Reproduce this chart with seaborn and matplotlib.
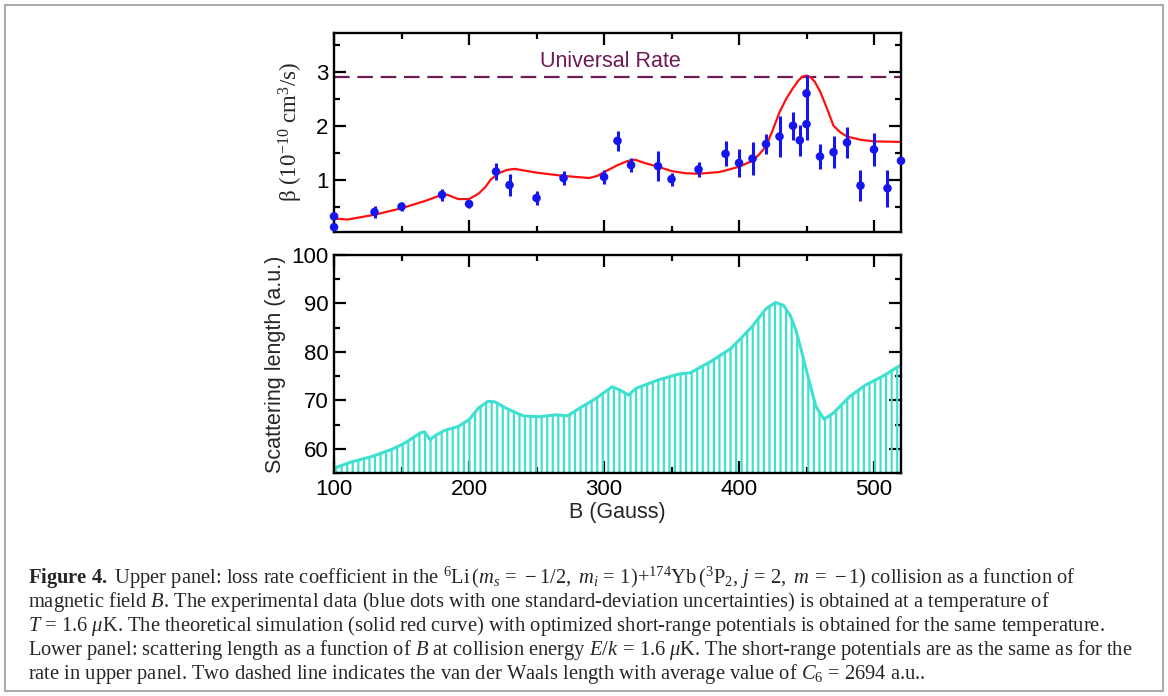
import numpy as np
import pandas as pd
import matplotlib
matplotlib.use("Agg")
import matplotlib.pyplot as plt
import seaborn as sns
from matplotlib.ticker import MultipleLocator
from matplotlib.patches import Rectangle

# -- data --
# upper panel: theory curve (red)
red_B = [100, 110, 130, 150, 168, 180, 184, 192, 200, 207, 212, 216, 222, 228,
         234, 250, 270, 289, 295, 300, 310, 318, 323, 330, 340, 350, 360, 370,
         385, 390, 400, 410, 415, 420, 425, 430, 435, 440, 444, 447, 450, 453,
         456, 460, 465, 470, 475, 480, 490, 500, 520]
red_beta = [0.28, 0.26, 0.35, 0.47, 0.61, 0.72, 0.72, 0.64, 0.64, 0.74, 0.86,
            1.00, 1.12, 1.18, 1.20, 1.13, 1.07, 1.03, 1.07, 1.14, 1.27, 1.35,
            1.37, 1.31, 1.24, 1.16, 1.12, 1.11, 1.14, 1.17, 1.24, 1.35, 1.47,
            1.62, 1.92, 2.25, 2.50, 2.70, 2.84, 2.91, 2.93, 2.90, 2.82, 2.64,
            2.33, 2.00, 1.88, 1.80, 1.74, 1.71, 1.70]

# upper panel: experiment (blue dots + 1 sigma)
exp_B = [100, 100, 130, 150, 180, 200, 220, 230, 250, 270, 300, 310, 320, 340,
         350, 370, 390, 400, 410, 420, 430, 440, 445, 450, 450, 460, 470, 480,
         490, 500, 510, 520]
exp_beta = [0.32, 0.12, 0.40, 0.50, 0.72, 0.55, 1.15, 0.90, 0.66, 1.03, 1.05,
            1.72, 1.27, 1.25, 1.01, 1.19, 1.48, 1.31, 1.39, 1.66, 1.80, 2.00,
            1.73, 2.60, 2.03, 1.43, 1.51, 1.69, 0.89, 1.56, 0.84, 1.35]
exp_err = [0.03, 0.03, 0.12, 0.08, 0.11, 0.07, 0.15, 0.20, 0.13, 0.13, 0.13,
           0.18, 0.13, 0.28, 0.12, 0.14, 0.23, 0.26, 0.31, 0.18, 0.38, 0.26,
           0.29, 0.34, 0.30, 0.24, 0.30, 0.29, 0.29, 0.31, 0.34, 0.04]

universal_rate = 2.91

# lower panel: scattering length
scat_B = [100, 113, 128, 143, 152, 158, 164, 167, 171, 176, 182, 192, 200, 207,
          214, 219, 228, 240, 252, 264, 273, 282, 294, 306, 312, 318, 324, 340,
          355, 364, 379, 394, 409, 420, 427, 433, 438, 442, 446, 451, 457, 463,
          470, 482, 494, 506, 520]
scat_a = [56.0, 57.3, 58.4, 59.9, 61.1, 62.2, 63.3, 63.5, 61.9, 62.9, 63.8,
          64.6, 66.0, 68.4, 69.8, 69.7, 68.3, 66.8, 66.6, 67.0, 66.8, 68.4,
          70.4, 72.8, 72.1, 71.1, 72.5, 74.2, 75.4, 75.7, 78.0, 80.7, 85.0,
          88.9, 90.2, 89.6, 87.5, 84.6, 80.5, 75.0, 68.7, 66.1, 67.4, 70.8,
          73.2, 74.9, 77.3]

caption = [
    r'$\mathbf{Figure\ 4.}$ Upper panel: loss rate coefficient in the $^{6}$Li'
    r'$\,(m_s\,=\,-1/2,\ m_i\,=\,1)$+$^{174}$Yb$\,(^{3}$P$_{2}$, $j\,=\,2,\ m\,=\,-1)$'
    r' collision as a function of',
    r'magnetic field $B$. The experimental data (blue dots with one standard-deviation'
    r' uncertainties) is obtained at a temperature of',
    r'$T$ = 1.6 $\mu$K. The theoretical simulation (solid red curve) with optimized'
    r' short-range potentials is obtained for the same temperature.',
    r'Lower panel: scattering length as a function of $B$ at collision energy'
    r' $E/k\,=\,1.6\ \mu$K. The short-range potentials are as the same as for the',
    r'rate in upper panel. Two dashed line indicates the van der Waals length with'
    r' average value of $C_6$ = 2694 a.u..',
]

df_red = pd.DataFrame({'B': red_B, 'beta': red_beta})
df_exp = pd.DataFrame({'B': exp_B, 'beta': exp_beta, 'err': exp_err})
df_scat = pd.DataFrame({'B': scat_B, 'a': scat_a})

# -- style --
sns.set_style('ticks')
plt.rcParams['font.family'] = ['Liberation Sans', 'DejaVu Sans']
plt.rcParams['mathtext.fontset'] = 'custom'
plt.rcParams['mathtext.rm'] = 'Liberation Serif'
plt.rcParams['mathtext.it'] = 'Liberation Serif:italic'
plt.rcParams['mathtext.bf'] = 'Liberation Serif:bold'
plt.rcParams['hatch.linewidth'] = 1.6

fig = plt.figure(figsize=(11.68, 6.96), dpi=100)
ax1 = fig.add_axes([0.2860, 0.6667, 0.4854, 0.2859])
ax2 = fig.add_axes([0.2860, 0.3204, 0.4854, 0.3132])

turq = '#40E0D0'
purple = '#6E1A55'


def style_axis(ax):
    for s in ax.spines.values():
        s.set_linewidth(1.7)
        s.set_color('black')
    ax.tick_params(which='both', direction='in', top=True, right=True,
                   width=1.6, colors='black', labelsize=16)
    ax.tick_params(which='major', length=8.5, pad=4)
    ax.tick_params(which='minor', length=4.5)
    ax.xaxis.set_major_locator(MultipleLocator(100))
    ax.xaxis.set_minor_locator(MultipleLocator(50))
    ax.set_xlim(100, 520)


# -- upper panel --
ax1.axhline(universal_rate, color=purple, lw=1.6, dashes=(7, 3.5), zorder=1)
sns.lineplot(data=df_red, x='B', y='beta', color='#FF1010', lw=1.6,
             ax=ax1, zorder=2)
ax1.errorbar(df_exp['B'], df_exp['beta'], yerr=df_exp['err'], fmt='none',
             ecolor='#1515F0', elinewidth=2.2, capsize=0, zorder=3)
sns.scatterplot(data=df_exp, x='B', y='beta', color='#1515F0', s=38,
                edgecolor='none', ax=ax1, zorder=4, clip_on=False)
ax1.text(305, 3.2, 'Universal Rate', color=purple, fontsize=15.5,
         ha='center', va='center')
style_axis(ax1)
ax1.set_ylim(0.03, 3.72)
ax1.yaxis.set_major_locator(MultipleLocator(1))
ax1.yaxis.set_minor_locator(MultipleLocator(0.5))
ax1.tick_params(labelbottom=False)
ax1.set_xlabel('')
ax1.set_ylabel('β (10$^{-10}$ cm$^{3}$/s)', family='Liberation Serif',
               fontsize=16.5, labelpad=8)

# -- lower panel --
ax2.fill_between(df_scat['B'], df_scat['a'], 0, facecolor='none',
                 edgecolor=turq, hatch='|||', linewidth=0)
sns.lineplot(data=df_scat, x='B', y='a', color=turq, lw=2.2, ax=ax2)
style_axis(ax2)
ax2.set_ylim(55, 100)
ax2.yaxis.set_major_locator(MultipleLocator(10))
ax2.yaxis.set_minor_locator(MultipleLocator(5))
ax2.set_xlabel('B (Gauss)', fontsize=15.5, labelpad=2)
ax2.set_ylabel('Scattering length (a.u.)', fontsize=15.5, labelpad=4)

# -- caption + frame --
for i, line in enumerate(caption):
    fig.text(28 / 1168, 1 - (578 + 24 * i) / 696, line, family='Liberation Serif',
             fontsize=14.8, ha='left', va='center')

fig.add_artist(Rectangle((5 / 1168, 5 / 696), 1158 / 1168, 686 / 696,
                         transform=fig.transFigure, fill=False,
                         edgecolor='#9a9a9a', lw=1.2))

plt.savefig('out.png', dpi=100)
